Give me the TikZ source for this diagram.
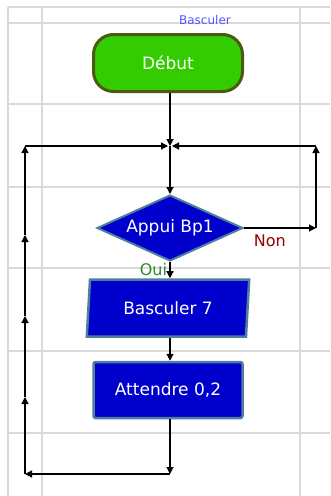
\documentclass[tikz,border=0pt]{standalone}
\usepackage{fontspec}
\setmainfont{DejaVu Sans}
\usetikzlibrary{positioning, arrows.meta, calc, shapes.geometric}
\definecolor{gitter}{HTML}{D9D9D9}
\definecolor{startgruen}{HTML}{33CC00}
\definecolor{startrand}{HTML}{4A5A14}
\definecolor{blockblau}{HTML}{0000CC}
\definecolor{blockrand}{HTML}{4F7F9C}
\definecolor{titelblau}{HTML}{5555FF}
\definecolor{neinrot}{HTML}{990000}
\definecolor{jagruen}{HTML}{2E8B2E}

\begin{document}
\begin{tikzpicture}[x=1pt, y=-1pt, >={Triangle[length=7pt, width=7pt]},
    font=\fontsize{17}{20}\selectfont,
    fluss/.style={line width=1.2pt, ->},
    blockbox/.style={draw=blockrand, line width=2.5pt, fill=blockblau, text=white,
        minimum width=149pt, minimum height=56pt, inner sep=0pt}]

    % Hintergrund und Bildrahmen
    \useasboundingbox (0, 0) rectangle (330, 496);
    \fill[white] (0, 0) rectangle (330, 496);

    % Raster
    \foreach \gx in {8, 42, 300}
        \draw[gitter, line width=1.5pt] (\gx, 7) -- (\gx, 496);
    \foreach \gy in {7, 23, 104, 187, 268, 351, 433}
        \draw[gitter, line width=1.5pt] (8, \gy) -- (330, \gy);

    % Titel
    \node[text=titelblau, font=\fontsize{12}{14}\selectfont] (titel) at (205, 20) {Basculer};

    % Bloecke
    \node[draw=startrand, line width=3pt, fill=startgruen, text=white, rounded corners=20pt,
        minimum width=149pt, minimum height=57pt] (debut) at (168, 63) {Début};
    \node[diamond, aspect=2.2, draw=blockrand, line width=2pt, fill=blockblau, text=white,
        minimum width=146pt, minimum height=66pt, inner sep=0pt] (appui) at (170, 228) {Appui Bp1};
    \node[trapezium, trapezium left angle=82, trapezium right angle=98, trapezium stretches=true,
        blockbox, minimum width=163pt, minimum height=57pt] (basculer) at (168, 308) {Basculer 7};
    \node[blockbox, rounded corners=2pt] (attendre) at (168, 390) {Attendre 0,2};

    % Hilfspunkte fuer die Schleifen
    \coordinate (j) at (170, 146);
    \coordinate (rb) at (316, 228);
    \coordinate (rt) at (316, 146);
    \coordinate (lb) at (170, 474);
    \coordinate (lbl) at (25, 474);
    \coordinate (l1) at (25, 397);
    \coordinate (l2) at (25, 316);
    \coordinate (l3) at (25, 235);
    \coordinate (lt) at (25, 146);

    % Hauptfluss
    \draw[fluss] (debut.south -| j) -- (j);
    \draw[fluss] (j) -- (appui.north);
    \draw[fluss] (appui.south) -- (basculer.north -| appui.south)
        node[pos=0.45, left=-1pt, text=jagruen, font=\fontsize{16}{18}\selectfont] {Oui};
    \draw[fluss] (basculer.south -| appui.south) -- (attendre.north -| appui.south);

    % Schleife "Non"
    \draw[fluss] (appui.east) -- (rb)
        node[pos=0.36, below=3pt, text=neinrot, font=\fontsize{16}{18}\selectfont] {Non};
    \draw[fluss] (rb) -- (rt);
    \draw[fluss, shorten >=2pt] (rt) -- (j);

    % Rueckfuehrung links
    \draw[fluss] (attendre.south -| lb) -- (lb);
    \draw[fluss] (lb) -- (lbl);
    \draw[fluss] (lbl) -- (l1);
    \draw[fluss] (l1) -- (l2);
    \draw[fluss] (l2) -- (l3);
    \draw[fluss] (l3) -- (lt);
    \draw[fluss, shorten >=2pt] (lt) -- (j);

\end{tikzpicture}
\end{document}
